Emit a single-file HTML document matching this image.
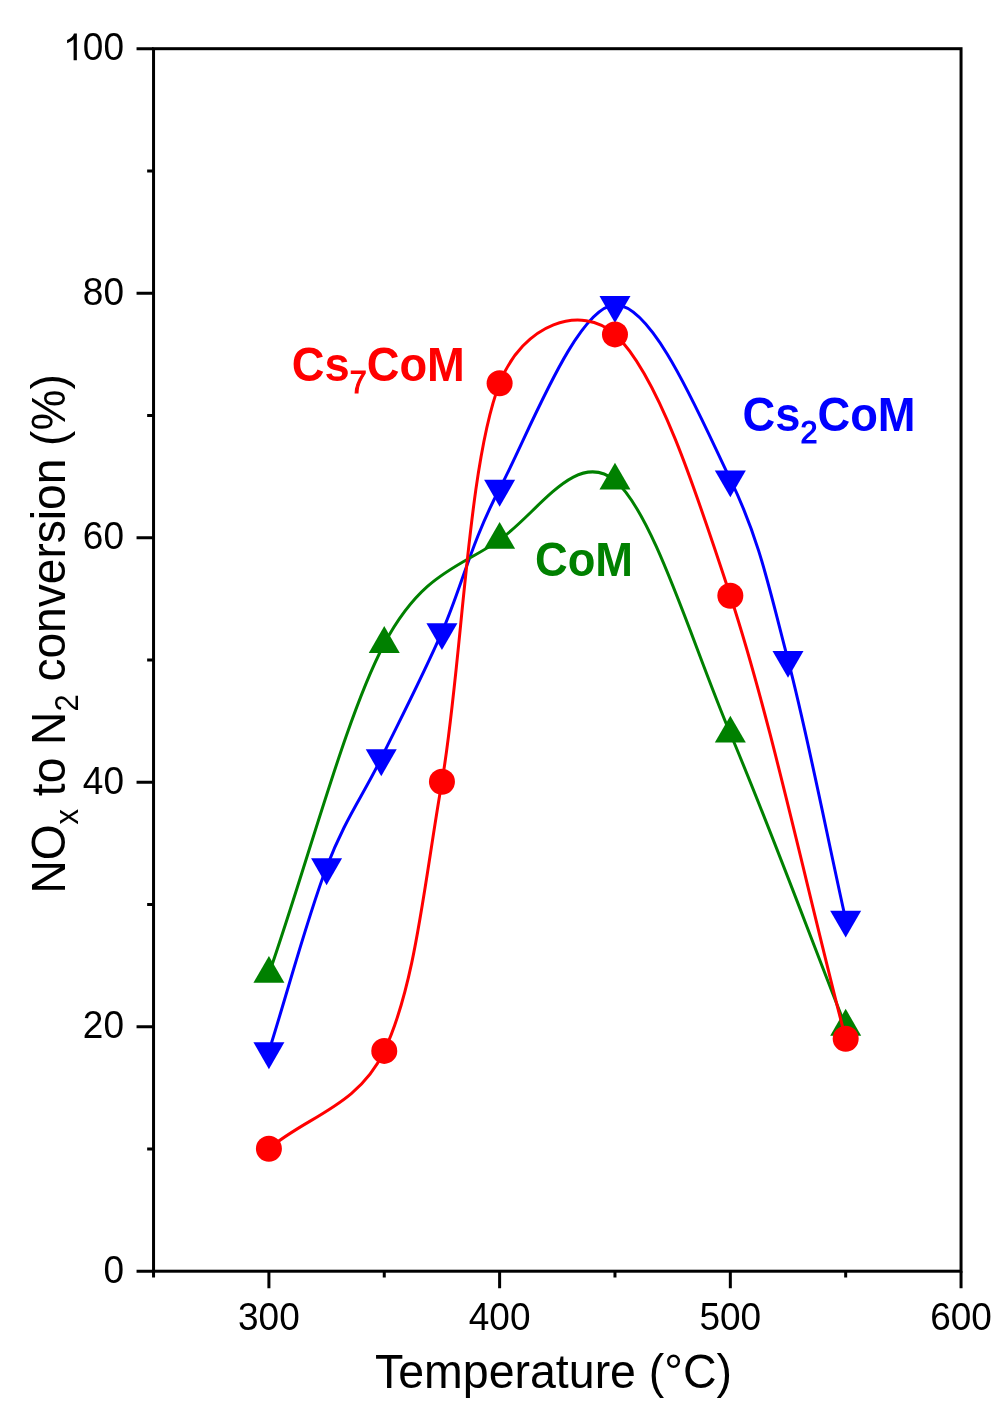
<!DOCTYPE html><html><head><meta charset="utf-8"><style>
html,body{margin:0;padding:0;background:#fff;}
svg{display:block;will-change:transform;}
text{font-family:"Liberation Sans",sans-serif;}
</style></head><body>
<svg width="1006" height="1423" viewBox="0 0 1006 1423">
<path d="M268.91,1051.27 C288.13,989.94 307.86,916.12 326.58,867.29 C345.31,818.45 362.03,797.42 381.26,758.24 C400.49,719.06 422.21,677.11 441.94,632.20 C461.66,587.29 470.78,543.32 499.62,488.80 C528.45,434.28 576.52,306.63 614.97,305.06 C653.42,303.49 701.49,420.24 730.33,479.39 C759.16,538.54 768.78,586.58 788.00,659.95 C807.23,733.32 826.45,833.06 845.68,919.61" fill="none" stroke="#0000ff" stroke-width="3.0" stroke-linejoin="round"/>
<path d="M268.91,1069.17 L284.41,1042.32 L253.41,1042.32 Z" fill="#0000ff"/>
<path d="M326.58,885.19 L342.08,858.34 L311.08,858.34 Z" fill="#0000ff"/>
<path d="M381.26,776.14 L396.76,749.29 L365.76,749.29 Z" fill="#0000ff"/>
<path d="M441.94,650.10 L457.44,623.25 L426.44,623.25 Z" fill="#0000ff"/>
<path d="M499.62,506.70 L515.12,479.85 L484.12,479.85 Z" fill="#0000ff"/>
<path d="M614.97,322.96 L630.47,296.11 L599.47,296.11 Z" fill="#0000ff"/>
<path d="M730.33,497.29 L745.83,470.44 L714.83,470.44 Z" fill="#0000ff"/>
<path d="M788.00,677.85 L803.50,651.00 L772.50,651.00 Z" fill="#0000ff"/>
<path d="M845.68,937.51 L861.18,910.66 L830.18,910.66 Z" fill="#0000ff"/>
<path d="M268.91,973.89 C307.36,863.90 345.81,716.27 384.26,643.94 C422.71,571.60 461.16,567.12 499.62,539.90 C538.07,512.68 576.52,448.34 614.97,480.61 C653.42,512.88 691.87,642.53 730.33,733.54 C768.78,824.56 807.23,928.98 845.68,1026.70" fill="none" stroke="#008000" stroke-width="3.0" stroke-linejoin="round"/>
<path d="M268.91,955.99 L284.41,982.84 L253.41,982.84 Z" fill="#008000"/>
<path d="M384.26,626.04 L399.76,652.89 L368.76,652.89 Z" fill="#008000"/>
<path d="M499.62,522.00 L515.12,548.85 L484.12,548.85 Z" fill="#008000"/>
<path d="M614.97,462.71 L630.47,489.56 L599.47,489.56 Z" fill="#008000"/>
<path d="M730.33,715.64 L745.83,742.49 L714.83,742.49 Z" fill="#008000"/>
<path d="M845.68,1008.80 L861.18,1035.65 L830.18,1035.65 Z" fill="#008000"/>
<path d="M268.91,1148.71 C307.36,1116.11 358.16,1106.27 384.26,1050.91 C415.32,985.04 423.84,886.47 441.94,781.71 C462.15,664.75 467.02,467.56 499.62,383.30 C522.85,323.23 581.66,303.72 614.97,334.40 C657.28,373.36 694.70,487.00 730.33,595.77 C771.17,720.48 807.23,891.12 845.68,1038.80" fill="none" stroke="#ff0000" stroke-width="3.0" stroke-linejoin="round"/>
<circle cx="268.91" cy="1148.71" r="13" fill="#ff0000"/>
<circle cx="384.26" cy="1050.91" r="13" fill="#ff0000"/>
<circle cx="441.94" cy="781.71" r="13" fill="#ff0000"/>
<circle cx="499.62" cy="383.30" r="13" fill="#ff0000"/>
<circle cx="614.97" cy="334.40" r="13" fill="#ff0000"/>
<circle cx="730.33" cy="595.77" r="13" fill="#ff0000"/>
<circle cx="845.68" cy="1038.80" r="13" fill="#ff0000"/>
<rect x="153.55" y="48.70" width="807.49" height="1222.50" fill="none" stroke="#000" stroke-width="3.0" stroke-linecap="square"/>
<path d="M136.55,1271.20 H153.55 M136.55,1026.70 H153.55 M136.55,782.20 H153.55 M136.55,537.70 H153.55 M136.55,293.20 H153.55 M136.55,48.70 H153.55 M147.15,1148.95 H153.55 M147.15,904.45 H153.55 M147.15,659.95 H153.55 M147.15,415.45 H153.55 M147.15,170.95 H153.55 M268.91,1271.20 V1288.20 M499.62,1271.20 V1288.20 M730.33,1271.20 V1288.20 M961.04,1271.20 V1288.20 M153.55,1271.20 V1277.60 M384.26,1271.20 V1277.60 M614.97,1271.20 V1277.60 M845.68,1271.20 V1277.60" stroke="#000" stroke-width="3.0" fill="none"/>
<text transform="translate(124,1282.70) scale(1,1.065)" font-size="37" text-anchor="end">0</text>
<text transform="translate(124,1038.20) scale(1,1.065)" font-size="37" text-anchor="end">20</text>
<text transform="translate(124,793.70) scale(1,1.065)" font-size="37" text-anchor="end">40</text>
<text transform="translate(124,549.20) scale(1,1.065)" font-size="37" text-anchor="end">60</text>
<text transform="translate(124,304.70) scale(1,1.065)" font-size="37" text-anchor="end">80</text>
<text transform="translate(124,60.20) scale(1,1.065)" font-size="37" text-anchor="end">00</text>
<path transform="translate(63.07,60.20) scale(0.01807,-0.01825)" d="M763,0 L583,0 L583,1147 Q518,1085 412.5,1023 Q307,961 223,930 L223,1104 Q374,1175 472.5,1262 Q571,1349 604,1466 L763,1466 Z"/>
<text transform="translate(268.91,1329.5) scale(1,1.065)" font-size="37" text-anchor="middle">300</text>
<text transform="translate(499.62,1329.5) scale(1,1.065)" font-size="37" text-anchor="middle">400</text>
<text transform="translate(730.33,1329.5) scale(1,1.065)" font-size="37" text-anchor="middle">500</text>
<text transform="translate(961.04,1329.5) scale(1,1.065)" font-size="37" text-anchor="middle">600</text>
<text transform="translate(553.5,1388) scale(1,1.05)" font-size="46.5" text-anchor="middle">Temperature (°C)</text>
<text transform="translate(65,633.9) rotate(-90) scale(1,1.05)" font-size="46.1" text-anchor="middle">NO<tspan font-size="31" dy="12">x</tspan><tspan dy="-12"> to N</tspan><tspan font-size="31" dy="12">2</tspan><tspan dy="-12"> conversion (%)</tspan></text>
<text transform="translate(291.8,381.0) scale(1,1.05)" font-size="45.3" font-weight="bold" fill="#ff0000">Cs<tspan font-size="30.5" font-weight="normal" stroke="#ff0000" stroke-width="1.1" dy="11.3">7</tspan><tspan dy="-11.3">CoM</tspan></text>
<text transform="translate(742.6,431) scale(1,1.05)" font-size="45.3" font-weight="bold" fill="#0000ff">Cs<tspan font-size="30.5" font-weight="normal" stroke="#0000ff" stroke-width="1.1" dy="11.3">2</tspan><tspan dy="-11.3">CoM</tspan></text>
<text transform="translate(535,575.8) scale(1,1.05)" font-size="45.3" font-weight="bold" fill="#008000">CoM</text>
</svg></body></html>
